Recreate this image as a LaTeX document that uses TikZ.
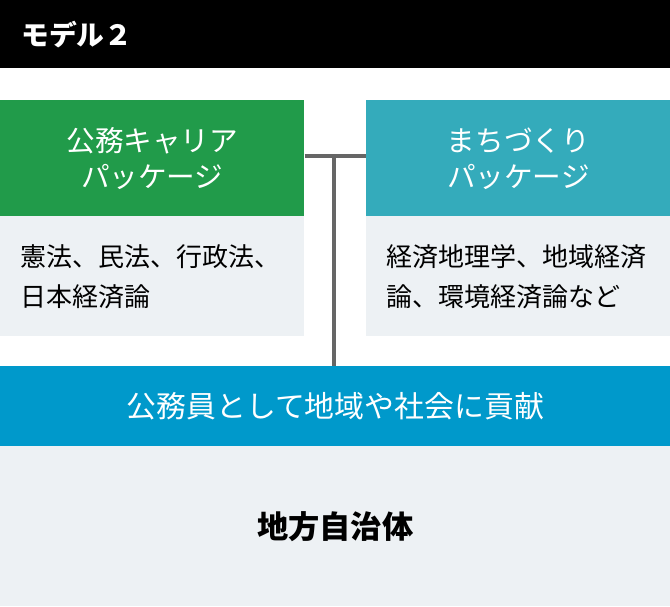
\documentclass[tikz,border=0pt]{standalone}
\usepackage{fontspec}
\setmainfont{Noto Sans CJK JP}
\definecolor{pkggreen}{HTML}{219B4A}
\definecolor{pkgteal}{HTML}{34ABBB}
\definecolor{barblue}{HTML}{0099CB}
\definecolor{paleback}{HTML}{EDF1F4}
\definecolor{linkgray}{HTML}{666666}
\tikzset{
  headbar/.style={fill=black, draw=none, inner sep=0pt, anchor=north west, minimum width=13.4cm, minimum height=1.36cm},
  pkgtitle/.style={draw=none, inner sep=0pt, anchor=north west, minimum width=6.08cm, minimum height=2.32cm, text=white, align=center, font=\fontsize{16.3pt}{20.4pt}\selectfont},
  pkgbody/.style={fill=paleback, draw=none, inner ysep=0pt, inner xsep=0.4cm, anchor=north west, text width=5.28cm, minimum height=2.4cm, align=left, font=\fontsize{14.8pt}{22.7pt}\selectfont},
  widebar/.style={draw=none, inner sep=0pt, anchor=north west, minimum width=13.4cm},
  joinline/.style={line width=2.3pt, draw=linkgray},
}
\begin{document}
\begin{tikzpicture}[x=0.02cm, y=-0.02cm]
\useasboundingbox (0,0) rectangle (670,606);
\node[headbar] (head) at (0,0) {};
\node[anchor=west, text=white, inner sep=0pt, font=\fontsize{15.8pt}{18pt}\selectfont\bfseries] (headtext) at (21,35) {モデル２};
\node[pkgtitle, fill=pkggreen] (pkgA) at (0,100) {公務キャリア\\パッケージ};
\node[pkgtitle, fill=pkgteal] (pkgB) at (366,100) {まちづくり\\パッケージ};
\node[pkgbody] (bodyA) at (0,216) {憲法、民法、行政法、\\日本経済論};
\node[pkgbody] (bodyB) at (366,216) {経済地理学、地域経済\\論、環境経済論など};
\node[widebar, fill=barblue, minimum height=1.6cm, text=white, font=\fontsize{17pt}{20pt}\selectfont] (contrib) at (0,366) {公務員として地域や社会に貢献};
\node[widebar, fill=paleback, minimum height=3.2cm, font=\fontsize{17.8pt}{21pt}\selectfont\bfseries] (local) at (0,446) {地方自治体};
% connector between the two packages
\coordinate (joint) at (334,156);
\draw[joinline] (joint -| pkgA.east) -- (joint -| pkgB.west);
\draw[joinline] (joint) -- (joint |- contrib.north);
\end{tikzpicture}
\end{document}
